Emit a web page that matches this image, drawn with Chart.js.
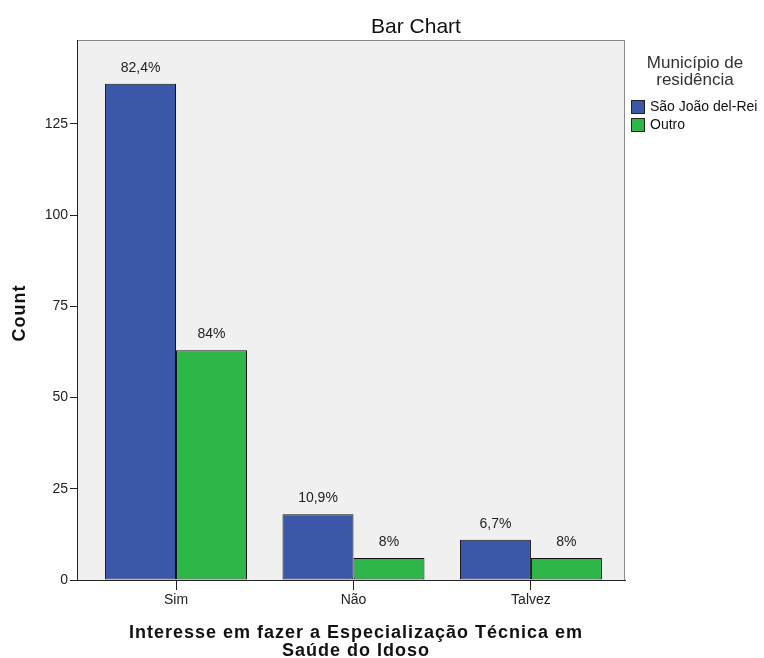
<!DOCTYPE html>
<html><head><meta charset="utf-8">
<script src="https://cdn.jsdelivr.net/npm/chart.js@4/dist/chart.umd.min.js"></script>
<style>html,body{margin:0;padding:0;background:#fff;}#wrap{width:764px;height:658px;}</style>
</head><body><div id="wrap"><canvas id="c" width="764" height="658"></canvas></div>
<script>
const categories = ["Sim", "Não", "Talvez"];
const seriesNames = ["São João del-Rei", "Outro"];
const saoJoao = [136, 18, 11];
const outro = [63, 6, 6];
const saoJoaoPct = ["82,4%", "10,9%", "6,7%"];
const outroPct = ["84%", "8%", "8%"];
const yTicks = [0, 25, 50, 75, 100, 125];
const chartTitle = "Bar Chart";
const yTitle = "Count";
const xTitle = ["Interesse em fazer a Especialização Técnica em", "Saúde do Idoso"];
const legendTitle = ["Município de", "residência"];

const BLUE = "#3c56aa", GREEN = "#2eb64b";
const FONT = "'Liberation Sans', Arial, sans-serif";

const decor = {
  id: 'decor',
  beforeDraw(chart) {
    const {ctx, chartArea: a} = chart;
    ctx.save();
    ctx.fillStyle = '#f0f0f0';
    ctx.fillRect(a.left, a.top, a.right - a.left, a.bottom - a.top);
    ctx.strokeStyle = '#8a8a8a';
    ctx.lineWidth = 1;
    ctx.strokeRect(a.left + 0.5, a.top + 0.5, a.right - a.left - 1, a.bottom - a.top);
    ctx.restore();
  },
  afterDraw(chart) {
    const {ctx} = chart;
    ctx.save();
    ctx.fillStyle = '#111';
    ctx.textAlign = 'center';
    ctx.textBaseline = 'middle';
    ctx.font = "21px " + FONT;
    ctx.fillText(chartTitle, 416, 27);
    ctx.font = "bold 18px " + FONT;
    ctx.letterSpacing = '1px';
    ctx.fillText(xTitle[0], 356, 633);
    ctx.fillText(xTitle[1], 356, 651);
    ctx.save();
    ctx.translate(20, 313);
    ctx.rotate(-Math.PI / 2);
    ctx.fillText(yTitle, 0, 0);
    ctx.restore();
    ctx.letterSpacing = '0px';
    ctx.font = "14px " + FONT;
    ctx.fillStyle = '#222';
    const pcts = [saoJoaoPct, outroPct];
    chart.data.datasets.forEach((ds, di) => {
      chart.getDatasetMeta(di).data.forEach((bar, i) => {
        ctx.fillText(pcts[di][i], bar.x, bar.y - 16);
      });
    });
    ctx.fillStyle = '#333';
    ctx.font = "17px " + FONT;
    ctx.fillText(legendTitle[0], 695, 63);
    ctx.fillText(legendTitle[1], 695, 80);
    const cols = [BLUE, GREEN];
    ctx.textAlign = 'left';
    ctx.font = "14px " + FONT;
    seriesNames.forEach((n, i) => {
      const y = 100 + i * 18;
      ctx.fillStyle = cols[i];
      ctx.fillRect(631, y, 14, 14);
      ctx.strokeStyle = '#222';
      ctx.strokeRect(631.5, y + 0.5, 13, 13);
      ctx.fillStyle = '#111';
      ctx.fillText(n, 650, y + 7.5);
    });
    ctx.restore();
  }
};

new Chart(document.getElementById('c'), {
  type: 'bar',
  data: {
    datasets: [
      { label: seriesNames[0], data: saoJoao.map((v, i) => ({x: i, y: v})), backgroundColor: BLUE, borderColor: '#111', borderWidth: 1, borderSkipped: false },
      { label: seriesNames[1], data: outro.map((v, i) => ({x: i, y: v})), backgroundColor: GREEN, borderColor: '#111', borderWidth: 1, borderSkipped: false }
    ]
  },
  options: {
    responsive: false,
    animation: false,
    devicePixelRatio: 1,
    layout: { padding: { top: 40, right: 139, left: 0, bottom: 0 } },
    categoryPercentage: 0.8,
    barPercentage: 1.0,
    plugins: { legend: { display: false }, title: { display: false }, tooltip: { enabled: false } },
    scales: {
      x: {
        type: 'linear',
        offset: false,
        min: -0.558,
        max: 2.53,
        afterFit(s) { s.height = 78; },
        afterBuildTicks(s) { s.ticks = categories.map((c, i) => ({value: i})); },
        grid: { offset: false, drawOnChartArea: false, tickLength: 10, color: '#222' },
        border: { display: true, color: '#222' },
        ticks: { callback: (v) => categories[v], font: { family: FONT, size: 14 }, color: '#222', padding: 2, maxRotation: 0 }
      },
      y: {
        min: 0,
        max: 148,
        afterFit(s) { s.width = 77; },
        afterBuildTicks(s) { s.ticks = yTicks.map(v => ({value: v})); },
        grid: { drawOnChartArea: false, tickLength: 7, color: '#222' },
        border: { display: true, color: '#222' },
        ticks: { font: { family: FONT, size: 14 }, color: '#222', padding: 2 }
      }
    }
  },
  plugins: [decor]
});
</script></body></html>
